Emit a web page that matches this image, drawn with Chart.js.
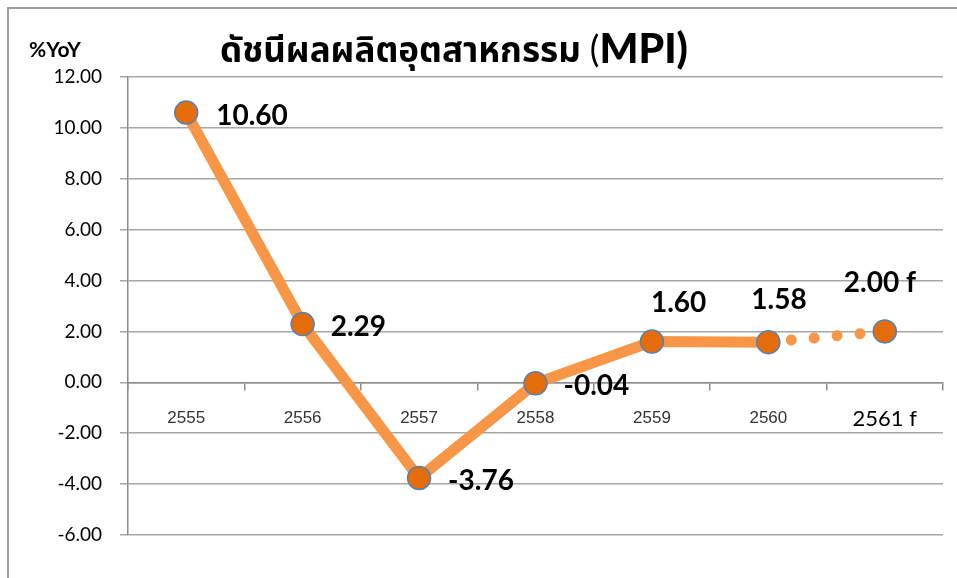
<!DOCTYPE html>
<html>
<head>
<meta charset="utf-8">
<script src="https://cdn.jsdelivr.net/npm/chart.js@4/dist/chart.umd.min.js"></script>
<style>
  html, body { margin: 0; padding: 0; background: #fff; }
  #wrap { width: 957px; height: 578px; position: relative; }
</style>
</head>
<body>
<div id="wrap"><canvas id="mpiChart" width="957" height="578"></canvas></div>
<script>
// data
const years = ['2555', '2556', '2557', '2558', '2559', '2560', '2561 f'];
const mpiYoY = [10.60, 2.29, -3.76, -0.04, 1.60, 1.58, 2.00];
const isForecast = [false, false, false, false, false, false, true];
const yMin = -6;
const yMax = 12;
const yStep = 2;

const titleThai = 'ดัชนีผลผลิตอุตสาหกรรม ';
const titleParen = '(';
const titleBold = 'MPI)';
const unitText = '%YoY';

// label placement relative to each point (dx from point to text left, dy to text middle)
const labelOffsets = [[30, 3], [28, 3], [29, 3], [28, 3], [-1, -39], [-17, -42], [-41, -48]];

const frameAndTitle = {
  id: 'frameAndTitle',
  beforeDraw(chart) {
    const c = chart.ctx;
    c.save();
    c.fillStyle = '#fff';
    c.fillRect(0, 0, chart.width, chart.height);
    c.strokeStyle = '#9d9d9d';
    c.lineWidth = 2;
    c.beginPath();
    c.moveTo(8, chart.height);
    c.lineTo(8, 8);
    c.lineTo(chart.width, 8);
    c.stroke();
    c.restore();
  },
  afterDraw(chart) {
    const c = chart.ctx;
    c.save();
    c.fillStyle = '#000';
    c.textBaseline = 'middle';
    c.textAlign = 'left';
    c.font = 'bold 21px Lato, sans-serif';
    c.fillText(unitText, 29, 50);

    // title: Thai part, plain bracket, bold MPI)
    const parts = [
      [titleThai, 'bold 35px "Noto Sans Thai", "Noto Sans", "DejaVu Sans", sans-serif', 62],
      [titleParen, '36px Lato, sans-serif', 62],
      [titleBold, '900 41px Lato, "Open Sans", sans-serif', 63]
    ];
    let total = 0;
    const widths = parts.map(p => { c.font = p[1]; const w = c.measureText(p[0]).width; total += w; return w; });
    let x = 454 - total / 2;
    c.textBaseline = 'alphabetic';
    parts.forEach((p, i) => {
      c.font = p[1];
      c.fillText(p[0], x, p[2]);
      x += widths[i];
    });
    c.restore();
  }
};

const pointLabels = {
  id: 'pointLabels',
  afterDatasetsDraw(chart) {
    const c = chart.ctx;
    const meta = chart.getDatasetMeta(0);
    c.save();
    c.fillStyle = '#000';
    c.font = 'bold 28px Lato, sans-serif';
    c.textAlign = 'left';
    c.textBaseline = 'middle';
    meta.data.forEach((pt, i) => {
      const txt = mpiYoY[i].toFixed(2) + (isForecast[i] ? ' f' : '');
      const off = labelOffsets[i];
      c.fillText(txt, pt.x + off[0], pt.y + off[1]);
    });
    c.restore();
  }
};

new Chart(document.getElementById('mpiChart'), {
  type: 'line',
  data: {
    labels: years,
    datasets: [{
      data: mpiYoY,
      borderColor: '#F79646',
      borderWidth: 11,
      borderJoinStyle: 'round',
      pointRadius: 11.5,
      pointBorderWidth: 1.5,
      pointBackgroundColor: '#E46C0A',
      pointBorderColor: '#4F81BD',
      tension: 0,
      segment: {
        borderDash: ctx => isForecast[ctx.p1DataIndex] ? [0.01, 23] : undefined,
        borderCapStyle: ctx => isForecast[ctx.p1DataIndex] ? 'round' : 'butt'
      }
    }]
  },
  options: {
    responsive: false,
    animation: false,
    layout: { padding: { top: 77, right: 14, bottom: 43, left: 0 } },
    plugins: {
      legend: { display: false },
      tooltip: { enabled: false },
      title: { display: false }
    },
    scales: {
      x: {
        type: 'category',
        position: { y: 0 },
        offset: true,
        grid: {
          display: true,
          drawOnChartArea: false,
          drawTicks: true,
          tickLength: 7,
          offset: true,
          color: '#8c8c8c',
          lineWidth: 1.5
        },
        border: { display: true, color: '#8c8c8c', width: 1.5 },
        ticks: {
          padding: 19,
          maxRotation: 0,
          autoSkip: false,
          color: c => c.index === years.length - 1 ? '#000' : '#333',
          font: c => c.index === years.length - 1
            ? { family: 'Lato, sans-serif', size: 22, lineHeight: 1 }
            : { family: '"Liberation Sans Narrow", "Liberation Sans", sans-serif', size: 17 }
        }
      },
      y: {
        min: yMin,
        max: yMax,
        afterFit(scale) { scale.width = 128; },
        grid: {
          color: '#a6a6a6',
          lineWidth: 1.5,
          tickLength: 8,
          drawTicks: true
        },
        border: { display: true, color: '#8c8c8c', width: 1.5 },
        ticks: {
          stepSize: yStep,
          padding: 18,
          color: '#000',
          font: { family: 'Lato, sans-serif', size: 19 },
          callback: v => Number(v).toFixed(2)
        }
      }
    }
  },
  plugins: [frameAndTitle, pointLabels]
});
</script>
</body>
</html>
